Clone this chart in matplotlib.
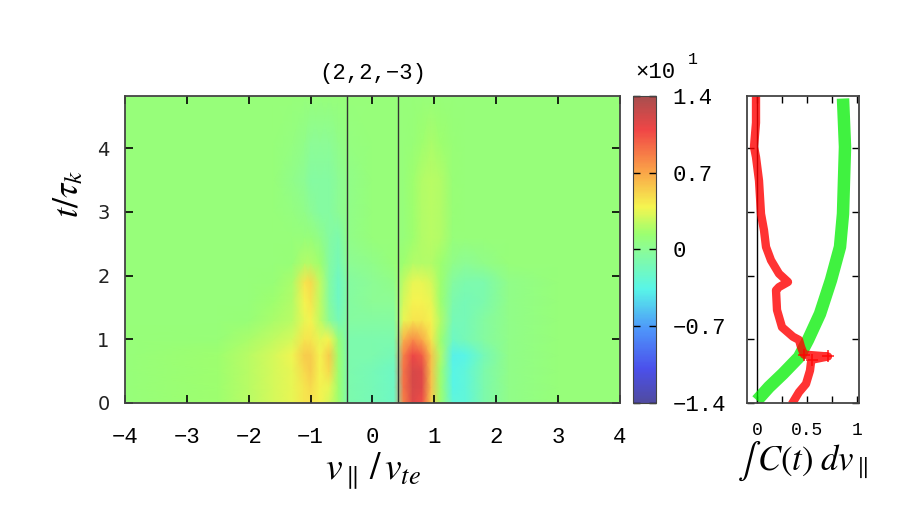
import numpy as np
import matplotlib.pyplot as plt
from matplotlib.colors import LinearSegmentedColormap

plt.rcParams['mathtext.fontset'] = 'stix'

# grid nodes of the correlation map (v_par / v_te across, t / tau_k up)
v_nodes = [-4.0, -2.5, -2.0, -1.6, -1.3, -1.1, -1.0, -0.85, -0.7, -0.55, -0.4, 0.0,
           0.35, 0.5, 0.65, 0.8, 0.95, 1.1, 1.3, 1.5, 1.8, 2.2, 3.0, 4.0]
t_nodes = [0.0, 0.25, 0.5, 0.75, 1.0, 1.3, 1.6, 1.9, 2.2, 2.6, 3.0, 3.5, 4.1, 4.85]

# values in units of 10^1, one row per t node
corr = [
    [.10, .15, .22, .30, .35, .45, .45, .40, .30, .15, -.10, -.15, -.20, .85, 1.15, 1.05, .55, .15, -.30, -.30, -.10, .05, .10, .10],
    [.10, .15, .22, .30, .35, .45, .50, .40, .35, .15, -.10, -.15, -.20, .90, 1.20, 1.15, .60, .15, -.35, -.30, -.10, .05, .10, .10],
    [.10, .15, .22, .30, .35, .50, .55, .40, .50, .15, -.10, -.15, -.20, .90, 1.20, 1.15, .60, .15, -.35, -.30, -.10, .05, .10, .10],
    [.10, .15, .22, .30, .38, .55, .55, .40, .55, .15, -.10, -.10, -.15, .85, 1.10, 1.00, .60, .20, -.38, -.35, -.15, .05, .10, .10],
    [.10, .12, .18, .25, .30, .45, .45, .35, .40, .10, -.10, -.10, -.10, .65, .80, .70, .45, .15, -.20, -.15, -.05, .05, .10, .10],
    [.10, .10, .12, .18, .22, .35, .40, .25, .00, -.15, -.05, -.05, -.05, .35, .45, .45, .40, .20, -.15, -.15, -.05, .05, .10, .10],
    [.10, .10, .10, .15, .20, .40, .45, .25, -.05, -.20, -.05, .00, .00, .30, .40, .40, .35, .15, -.10, -.15, -.10, .05, .10, .10],
    [.10, .10, .10, .12, .18, .45, .50, .25, -.05, -.20, -.05, .00, .05, .25, .35, .35, .30, .15, -.05, -.10, -.10, .05, .10, .10],
    [.10, .10, .10, .10, .12, .20, .20, .15, -.05, -.15, .00, .05, .10, .15, .20, .20, .20, .15, .05, .00, .05, .10, .10, .10],
    [.10, .10, .10, .10, .10, .10, .10, .05, -.05, -.10, .05, .10, .10, .10, .15, .20, .22, .20, .10, .10, .10, .10, .10, .10],
    [.10, .10, .10, .10, .08, .05, .00, -.05, -.05, .00, .05, .10, .10, .10, .15, .20, .22, .20, .12, .10, .10, .10, .10, .10],
    [.10, .10, .10, .10, .05, .00, -.05, -.05, -.05, .00, .05, .10, .10, .10, .15, .20, .22, .20, .12, .10, .10, .10, .10, .10],
    [.10, .10, .10, .10, .08, .05, .00, .00, .00, .05, .08, .10, .10, .10, .12, .15, .18, .15, .12, .10, .10, .10, .10, .10],
    [.10, .10, .10, .10, .10, .10, .10, .10, .10, .10, .10, .10, .10, .10, .10, .10, .10, .10, .10, .10, .10, .10, .10, .10],
]

v_lines = [-0.42, 0.42]
cbar_ticks = [-1.4, -0.7, 0, 0.7, 1.4]
cbar_labels = ['\u22121.4', '\u22120.7', '0', '0.7', '1.4']

# integrated correlation (red) and its running value (green), right panel
red_t = [0.04, 0.17, 0.30, 0.51, 0.64, 0.68, 0.73, 0.76, 0.80, 0.88, 0.99, 1.04, 1.19, 1.46,
         1.77, 1.82, 1.90, 2.03, 2.24, 2.45, 2.71, 2.97, 3.49, 3.86, 4.02, 4.40, 4.78]
red_x = [0.37, 0.42, 0.49, 0.53, 0.54, 0.55, 0.71, 0.47, 0.46, 0.44, 0.42, 0.36, 0.25, 0.20,
         0.19, 0.22, 0.31, 0.22, 0.14, 0.09, 0.07, 0.04, 0.02, -0.01, -0.03, -0.01, -0.01]
green_t = [0.04, 0.25, 0.46, 0.72, 0.99, 1.40, 1.93, 2.45, 2.97, 3.50, 4.02, 4.78]
green_x = [0.00, 0.12, 0.26, 0.42, 0.51, 0.63, 0.74, 0.83, 0.86, 0.87, 0.88, 0.86]

# washed-out jet, colours picked off the reference colour bar
cmap = LinearSegmentedColormap.from_list('softjet', [
    (0.00, (80/255, 75/255, 160/255)),
    (0.11, (75/255, 80/255, 235/255)),
    (0.24, (78/255, 150/255, 250/255)),
    (0.37, (88/255, 245/255, 232/255)),
    (0.50, (140/255, 252/255, 150/255)),
    (0.55, (155/255, 255/255, 112/255)),
    (0.64, (245/255, 245/255, 80/255)),
    (0.76, (250/255, 160/255, 72/255)),
    (0.89, (240/255, 70/255, 70/255)),
    (1.00, (168/255, 78/255, 78/255)),
])

mono = 'Liberation Mono'
fig = plt.figure(figsize=(9.15, 5.25), dpi=100)

# main map
ax = fig.add_axes([0.1366, 0.2324, 0.541, 0.5848])
V, T = np.meshgrid(v_nodes, t_nodes)
mesh = ax.pcolormesh(V, T, np.array(corr), cmap=cmap, vmin=-1.4, vmax=1.4, shading='gouraud')
for v in v_lines:
    ax.axvline(v, color='#333333', lw=1.0)
ax.set_xlim(-4, 4)
ax.set_ylim(0, 4.82)
ax.set_xticks(range(-4, 5))
ax.set_xticklabels(['\u2212%d' % -i if i < 0 else '%d' % i for i in range(-4, 5)],
                   fontfamily=mono, fontsize=16)
ax.set_yticks(range(0, 5))
ax.set_yticklabels([str(i) for i in range(5)], fontfamily='DejaVu Sans', fontsize=14,
                   color='#222222')
ax.tick_params(direction='in', top=True, right=True, length=6, width=1.2)
ax.tick_params(axis='x', pad=17)
ax.tick_params(axis='y', pad=11)
for s in ax.spines.values():
    s.set_color('#444444')
    s.set_linewidth(1.3)
ax.set_title('(2,2,\u22123)', fontfamily=mono, fontsize=16, pad=12)
ax.set_xlabel(r'$v_{\parallel}\,/\,v_{te}$', fontsize=27, labelpad=2)
ax.set_ylabel(r'$t/\tau_k$', fontsize=26)
ax.yaxis.set_label_coords(-0.08, 0.68)

# colorbar
cax = fig.add_axes([0.6918, 0.2324, 0.0251, 0.5848])
cb = fig.colorbar(mesh, cax=cax)
cb.set_ticks(cbar_ticks)
cb.set_ticklabels(cbar_labels)
cb.outline.set_edgecolor('#444444')
cax.tick_params(direction='in', length=5, width=1, left=True, right=True, pad=12)
for lab in cax.get_yticklabels():
    lab.set_fontfamily(mono)
    lab.set_fontsize(16)
fig.text(0.694, 0.852, '\u00d710', fontfamily=mono, fontsize=16)
fig.text(0.752, 0.878, '1', fontfamily=mono, fontsize=12)

# right panel
ax2 = fig.add_axes([0.8164, 0.2324, 0.1224, 0.5848])
ax2.axvline(0, color='black', lw=1.0)
ax2.plot(green_x, green_t, color='#00ee00', lw=9, alpha=0.75, solid_capstyle='butt')
ax2.plot(red_x, red_t, color='#ff0000', lw=6, alpha=0.8, marker='+', ms=8, mew=1.2,
         markevery=[5, 6, 7])
ax2.set_xlim(-0.1, 1.02)
ax2.set_ylim(0, 4.82)
ax2.set_xticks([0, 0.5, 1])
ax2.set_xticks([0.25, 0.75], minor=True)
ax2.set_xticklabels(['0', '0.5', '1'], fontfamily=mono, fontsize=13)
ax2.set_yticks(range(0, 5))
ax2.set_yticklabels([])
ax2.tick_params(which='both', direction='in', top=True, right=True, length=5, width=1)
ax2.tick_params(axis='x', pad=14)
for s in ax2.spines.values():
    s.set_color('#444444')
    s.set_linewidth(1.3)
ax2.set_xlabel(r'$\int\, C(t)\; dv_{\parallel}$', fontsize=25, labelpad=0)

fig.savefig('out.png', dpi=100)
